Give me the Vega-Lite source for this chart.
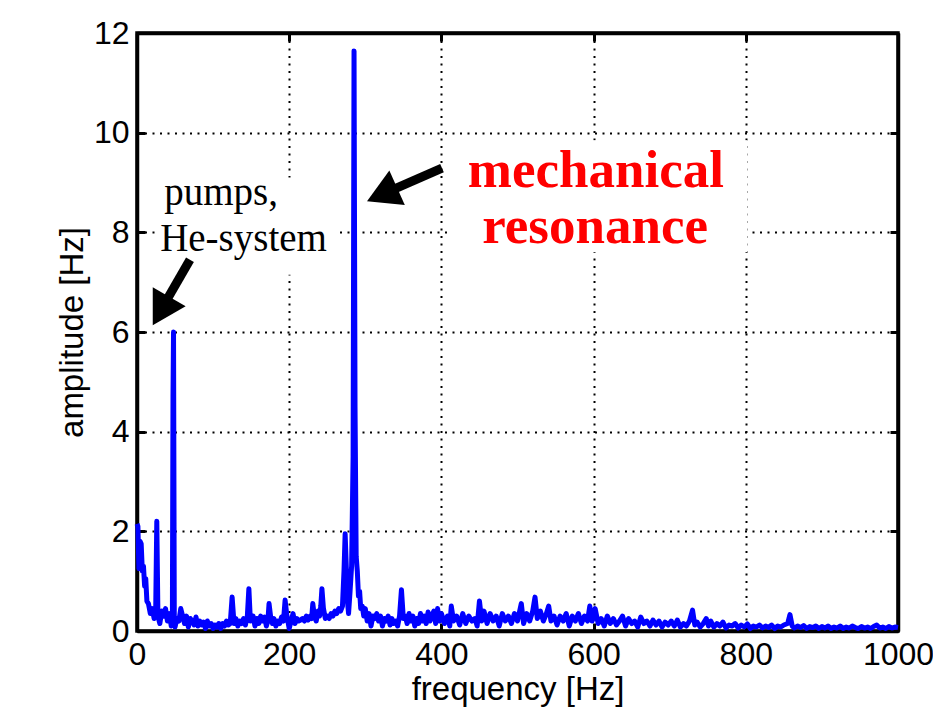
{
 "$schema": "https://vega.github.io/schema/vega-lite/v6.json",
 "width": 761, "height": 598,
 "autosize": "none",
 "padding": {"left": 137, "top": 33, "right": 35, "bottom": 80},
 "background": "white",
 "config": {
  "view": {"stroke": "black", "strokeWidth": 3.5},
  "axis": {"labelFont": "Liberation Sans", "labelFontSize": 32, "labelColor": "black", "titleFont": "Liberation Sans", "titleFontSize": 33, "titleFontWeight": "normal", "titleColor": "black", "domainColor": "black", "domainWidth": 3.5, "tickColor": "black", "tickWidth": 3, "tickSize": -8, "labelFlush": false, "labelOverlap": false, "format": "d", "gridColor": "black", "gridOpacity": 1, "gridWidth": 2, "gridDash": [2, 5.5]}
 },
 "datasets": {
  "spec": [
   {"f":0,"a":2.15},{"f":1.2,"a":2.1},{"f":2.5,"a":1.25},{"f":4,"a":1.8},{"f":5.5,"a":1.75},{"f":7,"a":1.2},{"f":8.5,"a":1.3},{"f":10,"a":0.9},{"f":11.5,"a":1.05},{"f":13,"a":0.6},{"f":15,"a":0.55},{"f":17.5,"a":0.35},{"f":20,"a":0.45},{"f":22.5,"a":0.25},{"f":24.5,"a":0.35},{"f":26,"a":2.2},{"f":27.5,"a":0.3},{"f":30,"a":0.15},{"f":32.5,"a":0.4},{"f":35,"a":0.3},{"f":37.5,"a":0.45},{"f":40,"a":0.2},{"f":42.5,"a":0.35},{"f":45,"a":0.1},{"f":46.5,"a":0.3},{"f":47.3,"a":4.7},{"f":48,"a":6.0},{"f":49,"a":0.3},{"f":50,"a":0.08},{"f":52.5,"a":0.25},{"f":55,"a":0.2},{"f":57.5,"a":0.45},{"f":60,"a":0.3},{"f":62.5,"a":0.15},{"f":65,"a":0.3},{"f":67.5,"a":0.08},{"f":70,"a":0.25},{"f":72.5,"a":0.2},{"f":75,"a":0.12},{"f":77.5,"a":0.28},{"f":80,"a":0.1},{"f":82.5,"a":0.2},{"f":85,"a":0.12},{"f":87.5,"a":0.18},{"f":90,"a":0.05},{"f":92.5,"a":0.2},{"f":95,"a":0.1},{"f":97.5,"a":0.15},{"f":100,"a":0.05},{"f":102.5,"a":0.12},{"f":105,"a":0.08},{"f":107.5,"a":0.15},{"f":110,"a":0.05},{"f":112.5,"a":0.15},{"f":115,"a":0.1},{"f":117.5,"a":0.2},{"f":120,"a":0.12},{"f":122.5,"a":0.15},{"f":125,"a":0.68},{"f":127.5,"a":0.15},{"f":130,"a":0.25},{"f":132.5,"a":0.1},{"f":135,"a":0.2},{"f":137.5,"a":0.15},{"f":140,"a":0.25},{"f":142.5,"a":0.12},{"f":145,"a":0.3},{"f":147,"a":0.85},{"f":149,"a":0.2},{"f":152.5,"a":0.3},{"f":155,"a":0.1},{"f":157.5,"a":0.25},{"f":160,"a":0.15},{"f":162.5,"a":0.3},{"f":165,"a":0.2},{"f":167.5,"a":0.28},{"f":170,"a":0.1},{"f":172,"a":0.2},{"f":173.5,"a":0.55},{"f":175.5,"a":0.3},{"f":178,"a":0.15},{"f":180,"a":0.25},{"f":182.5,"a":0.1},{"f":185,"a":0.2},{"f":187.5,"a":0.15},{"f":190,"a":0.28},{"f":192.5,"a":0.2},{"f":194.6,"a":0.62},{"f":197,"a":0.3},{"f":200,"a":0.05},{"f":202.5,"a":0.2},{"f":205,"a":0.35},{"f":207.5,"a":0.15},{"f":210,"a":0.25},{"f":212.5,"a":0.2},{"f":215,"a":0.22},{"f":217.5,"a":0.25},{"f":220,"a":0.2},{"f":222.5,"a":0.3},{"f":225,"a":0.22},{"f":227.5,"a":0.3},{"f":229.5,"a":0.25},{"f":231,"a":0.55},{"f":233,"a":0.3},{"f":235.5,"a":0.2},{"f":238,"a":0.4},{"f":240,"a":0.3},{"f":241.5,"a":0.5},{"f":243,"a":0.85},{"f":245,"a":0.45},{"f":247.5,"a":0.25},{"f":250,"a":0.3},{"f":252.5,"a":0.25},{"f":255,"a":0.35},{"f":257.5,"a":0.3},{"f":260,"a":0.4},{"f":262.5,"a":0.35},{"f":265,"a":0.45},{"f":267.5,"a":0.4},{"f":270,"a":0.5},{"f":272,"a":1.2},{"f":273.5,"a":1.95},{"f":275,"a":1.3},{"f":276.5,"a":0.6},{"f":278,"a":0.35},{"f":280,"a":0.8},{"f":282,"a":1.3},{"f":284,"a":3.5},{"f":285.2,"a":11.64},{"f":286.5,"a":4.5},{"f":288,"a":1.5},{"f":289.5,"a":1.2},{"f":291,"a":0.7},{"f":292.5,"a":0.8},{"f":294,"a":0.45},{"f":296,"a":0.5},{"f":298,"a":0.3},{"f":300,"a":0.45},{"f":302.5,"a":0.2},{"f":305,"a":0.35},{"f":307.5,"a":0.1},{"f":310,"a":0.3},{"f":312.5,"a":0.25},{"f":315,"a":0.35},{"f":317.5,"a":0.2},{"f":320,"a":0.3},{"f":322.5,"a":0.1},{"f":325,"a":0.25},{"f":327.5,"a":0.2},{"f":330,"a":0.3},{"f":332.5,"a":0.12},{"f":335,"a":0.25},{"f":337.5,"a":0.15},{"f":340,"a":0.2},{"f":342.5,"a":0.1},{"f":345,"a":0.3},{"f":347.5,"a":0.83},{"f":350,"a":0.25},{"f":352.5,"a":0.3},{"f":355,"a":0.15},{"f":357.5,"a":0.35},{"f":360,"a":0.2},{"f":362.5,"a":0.3},{"f":365,"a":0.1},{"f":367.5,"a":0.25},{"f":370,"a":0.15},{"f":372.5,"a":0.35},{"f":375,"a":0.2},{"f":377.5,"a":0.3},{"f":380,"a":0.15},{"f":382.5,"a":0.38},{"f":385,"a":0.2},{"f":387.5,"a":0.3},{"f":390,"a":0.4},{"f":392.5,"a":0.15},{"f":395,"a":0.45},{"f":397.5,"a":0.2},{"f":400,"a":0.35},
   {"f":404,"a":0.15},{"f":408,"a":0.3},{"f":411,"a":0.1},{"f":413,"a":0.5},{"f":416,"a":0.2},{"f":420,"a":0.3},{"f":424,"a":0.12},{"f":428,"a":0.35},{"f":432,"a":0.15},{"f":436,"a":0.3},{"f":440,"a":0.2},{"f":444,"a":0.25},{"f":447,"a":0.1},{"f":450,"a":0.6},{"f":453,"a":0.2},{"f":456,"a":0.4},{"f":460,"a":0.15},{"f":464,"a":0.35},{"f":468,"a":0.2},{"f":472,"a":0.3},{"f":476,"a":0.1},{"f":480,"a":0.35},{"f":484,"a":0.2},{"f":488,"a":0.3},{"f":492,"a":0.15},{"f":496,"a":0.35},{"f":500,"a":0.2},{"f":505,"a":0.55},{"f":508,"a":0.15},{"f":512,"a":0.35},{"f":516,"a":0.2},{"f":520,"a":0.4},{"f":523,"a":0.68},{"f":526,"a":0.25},{"f":530,"a":0.4},{"f":534,"a":0.2},{"f":538,"a":0.35},{"f":541,"a":0.5},{"f":544,"a":0.2},{"f":548,"a":0.3},{"f":552,"a":0.12},{"f":556,"a":0.3},{"f":560,"a":0.2},{"f":564,"a":0.35},{"f":568,"a":0.1},{"f":572,"a":0.3},{"f":576,"a":0.2},{"f":580,"a":0.35},{"f":584,"a":0.15},{"f":588,"a":0.3},{"f":592,"a":0.2},{"f":595,"a":0.5},{"f":598,"a":0.2},{"f":602,"a":0.45},{"f":606,"a":0.15},{"f":610,"a":0.25},{"f":614,"a":0.1},{"f":618,"a":0.3},{"f":622,"a":0.15},{"f":626,"a":0.25},{"f":630,"a":0.12},{"f":634,"a":0.2},{"f":638,"a":0.3},{"f":642,"a":0.1},{"f":646,"a":0.25},{"f":650,"a":0.15},{"f":654,"a":0.2},{"f":658,"a":0.08},{"f":662,"a":0.28},{"f":666,"a":0.15},{"f":670,"a":0.2},{"f":674,"a":0.1},{"f":678,"a":0.22},{"f":682,"a":0.12},{"f":686,"a":0.2},{"f":690,"a":0.08},{"f":694,"a":0.18},{"f":698,"a":0.12},{"f":702,"a":0.2},{"f":706,"a":0.1},{"f":710,"a":0.22},{"f":714,"a":0.08},{"f":718,"a":0.15},{"f":722,"a":0.1},{"f":726,"a":0.2},{"f":730,"a":0.42},{"f":733,"a":0.12},{"f":736,"a":0.18},{"f":740,"a":0.08},{"f":744,"a":0.15},{"f":748,"a":0.25},{"f":751,"a":0.1},{"f":754,"a":0.2},{"f":758,"a":0.08},{"f":762,"a":0.15},{"f":766,"a":0.1},{"f":770,"a":0.18},{"f":774,"a":0.06},{"f":778,"a":0.12},{"f":782,"a":0.1},{"f":786,"a":0.15},{"f":790,"a":0.06},{"f":794,"a":0.12},{"f":798,"a":0.08},{"f":802,"a":0.14},{"f":806,"a":0.05},{"f":810,"a":0.1},{"f":814,"a":0.08},{"f":818,"a":0.12},{"f":822,"a":0.06},{"f":826,"a":0.1},{"f":830,"a":0.07},{"f":834,"a":0.12},{"f":838,"a":0.05},{"f":842,"a":0.1},{"f":846,"a":0.08},{"f":850,"a":0.12},{"f":855,"a":0.15},{"f":858,"a":0.33},{"f":861,"a":0.1},{"f":864,"a":0.06},{"f":868,"a":0.1},{"f":872,"a":0.07},{"f":876,"a":0.11},{"f":880,"a":0.05},{"f":884,"a":0.09},{"f":888,"a":0.07},{"f":892,"a":0.1},{"f":896,"a":0.05},{"f":900,"a":0.09},{"f":904,"a":0.06},{"f":908,"a":0.1},{"f":912,"a":0.05},{"f":916,"a":0.08},{"f":920,"a":0.06},{"f":924,"a":0.1},{"f":928,"a":0.05},{"f":932,"a":0.08},{"f":936,"a":0.06},{"f":940,"a":0.1},{"f":944,"a":0.07},{"f":948,"a":0.05},{"f":952,"a":0.09},{"f":956,"a":0.06},{"f":960,"a":0.08},{"f":964,"a":0.05},{"f":968,"a":0.09},{"f":972,"a":0.12},{"f":976,"a":0.06},{"f":980,"a":0.08},{"f":984,"a":0.05},{"f":988,"a":0.09},{"f":992,"a":0.06},{"f":996,"a":0.08},{"f":1000,"a":0.07}
  ],
  "boxes": [
   {"f1": 24, "f2": 262, "a1": 7.15, "a2": 9.1},
   {"f1": 408, "f2": 802, "a1": 7.6, "a2": 9.85}
  ],
  "arrows": [
   {"g": "p", "f": 69.6, "a": 7.45, "f2": 36.8, "a2": 6.58, "hf": 31.5, "ha": 6.42},
   {"g": "m", "f": 400.8, "a": 9.29, "f2": 332.5, "a2": 8.83, "hf": 322, "ha": 8.76}
  ],
  "labels": [
   {"g": "p", "t": "pumps,", "f": 110.4, "a": 8.55},
   {"g": "p", "t": "He-system", "f": 140, "a": 7.63},
   {"g": "m", "t": "mechanical", "f": 603, "a": 8.91},
   {"g": "m", "t": "resonance", "f": 602, "a": 7.79}
  ]
 },
 "layer": [
  {
   "data": {"name": "spec"},
   "mark": {"type": "line", "color": "#0000FF", "strokeWidth": 5, "strokeJoin": "round"},
   "encoding": {
    "x": {"field": "f", "type": "quantitative", "scale": {"domain": [0, 1000], "nice": false, "zero": false}, "axis": {"orient": "bottom", "values": [0, 200, 400, 600, 800, 1000], "grid": true, "title": "frequency [Hz]", "labelPadding": 16, "titlePadding": 3, "zindex": 0}},
    "y": {"field": "a", "type": "quantitative", "scale": {"domain": [0, 12], "nice": false}, "axis": {"orient": "left", "values": [0, 2, 4, 6, 8, 10, 12], "grid": true, "title": "amplitude [Hz]", "labelPadding": 16, "titlePadding": 4, "zindex": 0}}
   }
  },
  {
   "data": {"name": "boxes"},
   "mark": {"type": "rect", "fill": "white"},
   "encoding": {
    "x": {"field": "f1", "type": "quantitative", "axis": {"orient": "top", "values": [0, 200, 400, 600, 800, 1000], "labels": false, "grid": false, "title": null}},
    "x2": {"field": "f2"},
    "y": {"field": "a1", "type": "quantitative", "axis": {"orient": "right", "values": [0, 2, 4, 6, 8, 10, 12], "labels": false, "grid": false, "title": null}},
    "y2": {"field": "a2"}
   }
  },
  {
   "data": {"name": "arrows"},
   "mark": {"type": "rule", "color": "black", "strokeWidth": 9, "strokeCap": "butt"},
   "encoding": {
    "x": {"field": "f", "type": "quantitative", "axis": null},
    "y": {"field": "a", "type": "quantitative", "axis": null},
    "x2": {"field": "f2"},
    "y2": {"field": "a2"}
   }
  },
  {
   "data": {"name": "arrows"},
   "transform": [{"filter": "datum.g == 'p'"}],
   "mark": {"type": "point", "shape": "triangle-up", "filled": true, "color": "black", "opacity": 1, "size": 1444, "angle": 210},
   "encoding": {
    "x": {"field": "hf", "type": "quantitative", "axis": null},
    "y": {"field": "ha", "type": "quantitative", "axis": null}
   }
  },
  {
   "data": {"name": "arrows"},
   "transform": [{"filter": "datum.g == 'm'"}],
   "mark": {"type": "point", "shape": "triangle-up", "filled": true, "color": "black", "opacity": 1, "size": 1444, "angle": 246},
   "encoding": {
    "x": {"field": "hf", "type": "quantitative", "axis": null},
    "y": {"field": "ha", "type": "quantitative", "axis": null}
   }
  },
  {
   "data": {"name": "labels"},
   "transform": [{"filter": "datum.g == 'p'"}],
   "mark": {"type": "text", "font": "Liberation Serif", "fontSize": 39, "color": "black", "align": "center", "baseline": "alphabetic"},
   "encoding": {
    "x": {"field": "f", "type": "quantitative", "axis": null},
    "y": {"field": "a", "type": "quantitative", "axis": null},
    "text": {"field": "t"}
   }
  },
  {
   "data": {"name": "labels"},
   "transform": [{"filter": "datum.g == 'm'"}],
   "mark": {"type": "text", "font": "Liberation Serif", "fontSize": 53, "fontWeight": "bold", "color": "#FF0000", "align": "center", "baseline": "alphabetic"},
   "encoding": {
    "x": {"field": "f", "type": "quantitative", "axis": null},
    "y": {"field": "a", "type": "quantitative", "axis": null},
    "text": {"field": "t"}
   }
  }
 ],
 "resolve": {"axis": {"x": "independent", "y": "independent"}}
}
